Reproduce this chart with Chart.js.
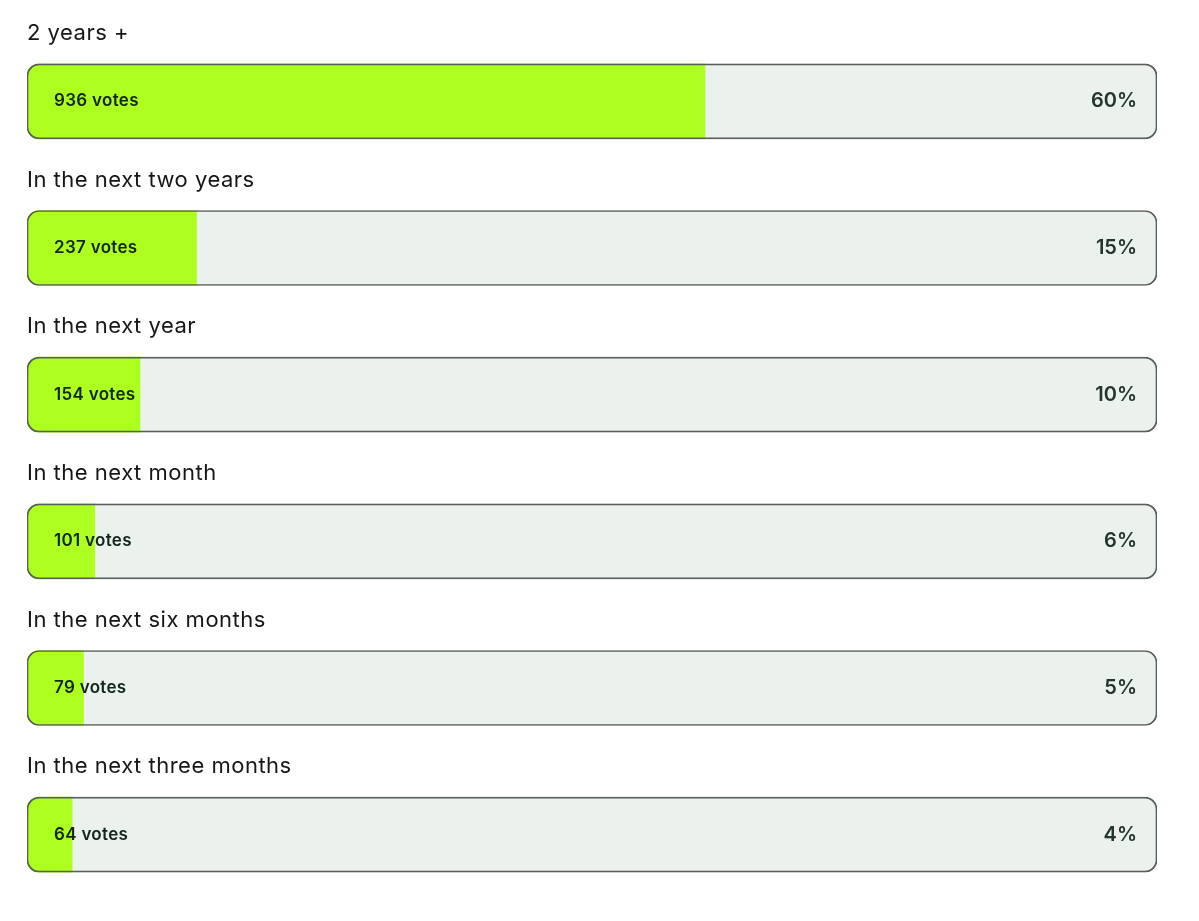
<!DOCTYPE html>
<html>
<head>
<meta charset="utf-8">
<script src="https://cdn.jsdelivr.net/npm/chart.js@4"></script>
<style>
  body { margin: 0; background: #fff; }
  #wrap { width: 1199px; height: 921px; }
</style>
</head>
<body>
<div id="wrap"><canvas id="pollChart"></canvas></div>
<script>
const categories = [
    "2 years +",
    "In the next two years",
    "In the next year",
    "In the next month",
    "In the next six months",
    "In the next three months"
];
const votes = [936, 237, 154, 101, 79, 64];
const percents = [60, 15, 10, 6, 5, 4];
const fullScale = [100, 100, 100, 100, 100, 100];

const FONT = "Inter, 'Noto Sans', sans-serif";

// labels above the bars, votes inside, percent on the right
const pollLabels = {
    id: 'pollLabels',
    afterDatasetsDraw(chart) {
        const ctx = chart.ctx;
        const x = chart.scales.x;
        const y = chart.scales.y;
        const left = x.getPixelForValue(0);
        const right = x.getPixelForValue(100);
        ctx.save();
        ctx.textBaseline = 'middle';
        categories.forEach((cat, i) => {
            const cy = y.getPixelForValue(i);
            ctx.fillStyle = '#161616';
            ctx.font = "400 22px " + FONT;
            ctx.letterSpacing = '0.5px';
            ctx.textAlign = 'left';
            ctx.fillText(cat, left, cy - 68);

            ctx.fillStyle = '#13261a';
            ctx.font = "600 17px " + FONT;
            ctx.letterSpacing = '0.3px';
            ctx.fillText(votes[i] + ' votes', left + 27, cy);

            ctx.fillStyle = '#24352d';
            ctx.font = "600 20px " + FONT;
            ctx.letterSpacing = '0px';
            ctx.textAlign = 'right';
            ctx.fillText(percents[i] + '%', right - 20, cy);
        });
        ctx.restore();
    }
};

document.addEventListener("DOMContentLoaded", () => {
    const ctx = document.getElementById('pollChart').getContext('2d');
    new Chart(ctx, {
        type: 'bar',
        data: {
            labels: categories,
            datasets: [
                {
                    label: 'outline',
                    data: fullScale,
                    backgroundColor: 'rgba(0,0,0,0)',
                    borderColor: '#5a5e5b',
                    borderWidth: 1,
                    borderSkipped: false,
                    borderRadius: 12,
                    grouped: false,
                    order: 1
                },
                {
                    label: 'share',
                    data: percents,
                    backgroundColor: '#adff1f',
                    borderWidth: 0,
                    borderSkipped: false,
                    borderRadius: { topLeft: 12, bottomLeft: 12, topRight: 0, bottomRight: 0 },
                    grouped: false,
                    order: 2
                },
                {
                    label: 'track',
                    data: fullScale,
                    backgroundColor: '#ebf1ed',
                    borderWidth: 0,
                    borderSkipped: false,
                    borderRadius: 12,
                    grouped: false,
                    order: 3
                }
            ]
        },
        options: {
            indexAxis: 'y',
            responsive: true,
            maintainAspectRatio: false,
            animation: false,
            barThickness: 75,
            layout: { padding: { top: 28, bottom: 13, left: 27, right: 42 } },
            scales: {
                x: { display: false, min: 0, max: 100 },
                y: { display: false }
            },
            plugins: {
                legend: { display: false },
                tooltip: { enabled: false }
            }
        },
        plugins: [pollLabels]
    });
});
</script>
</body>
</html>
